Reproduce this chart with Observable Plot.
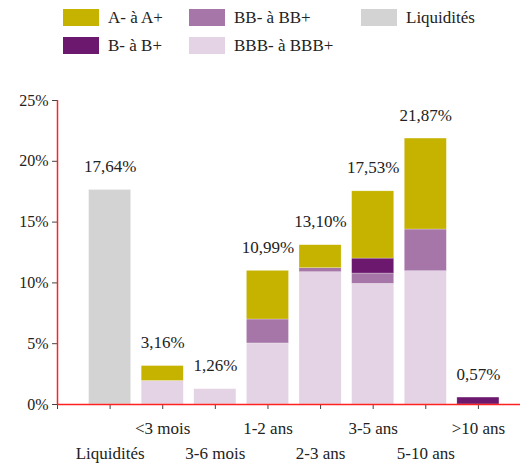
<!DOCTYPE html>
<html>
<head>
<meta charset="utf-8">
<script src="https://cdn.jsdelivr.net/npm/d3@7"></script>
<script src="https://cdn.jsdelivr.net/npm/@observablehq/plot@0.6"></script>
<style>
  html, body { margin: 0; padding: 0; background: #fff; }
  body { width: 525px; height: 463px; overflow: hidden; color: #222; }
  #legend { position: relative; width: 525px; height: 56px; }
  .item { position: absolute; display: flex; align-items: center; height: 17px; font-size: 17px; white-space: nowrap; }
  .sw { width: 36px; height: 17px; margin-right: 9px; flex: none; }
  #chart svg { display: block; }
</style>
</head>
<body>
<div id="legend"></div>
<div id="chart"></div>
<script>
// Categories (maturity buckets)
const categories = ["Liquidités", "<3 mois", "3-6 mois", "1-2 ans", "2-3 ans", "3-5 ans", "5-10 ans", ">10 ans"];
// Series values (% of portfolio)
const liquidites = [17.64, 0, 0, 0, 0, 0, 0, 0];
const bbb        = [0, 1.93, 1.26, 5.02, 10.88, 9.92, 10.96, 0];
const bb         = [0, 0, 0, 1.97, 0.33, 0.85, 3.43, 0];
const b          = [0, 0, 0, 0, 0, 1.23, 0, 0.57];
const a          = [0, 1.23, 0, 4.00, 1.89, 5.53, 7.48, 0];
const totals     = [17.64, 3.16, 1.26, 10.99, 13.10, 17.53, 21.87, 0.57];
const yTicks     = [0, 5, 10, 15, 20, 25];

const seriesNames = ["Liquidités", "BBB- à BBB+", "BB- à BB+", "B- à B+", "A- à A+"];
const seriesValues = [liquidites, bbb, bb, b, a];
const colors = {
  "A- à A+": "#c5b300",
  "BB- à BB+": "#a776a9",
  "Liquidités": "#d3d3d3",
  "B- à B+": "#6c186f",
  "BBB- à BBB+": "#e3d3e4"
};

// Pick an installed serif font
function hasFont(name) {
  const c = document.createElement("canvas").getContext("2d");
  const s = "Liquidités mmmwwwiii 0123456789%";
  c.font = `40px monospace`; const w0 = c.measureText(s).width;
  c.font = `40px "${name}", monospace`; const w1 = c.measureText(s).width;
  return w0 !== w1;
}
const candidates = ["Liberation Serif", "DejaVu Serif", "Noto Serif", "Times New Roman", "FreeSerif", "Tinos"];
const found = candidates.find(hasFont);
const FONT = found ? `"${found}", serif` : "serif";
document.body.style.fontFamily = FONT;

// Legend
const legendItems = [
  {name: "A- à A+", col: 0, row: 0},
  {name: "BB- à BB+", col: 1, row: 0},
  {name: "Liquidités", col: 2, row: 0},
  {name: "B- à B+", col: 0, row: 1},
  {name: "BBB- à BBB+", col: 1, row: 1}
];
const colX = [63, 189, 361], rowY = [9, 37];
const legend = document.getElementById("legend");
legendItems.forEach(it => {
  const d = document.createElement("div");
  d.className = "item";
  d.style.left = colX[it.col] + "px";
  d.style.top = rowY[it.row] + "px";
  d.innerHTML = `<span class="sw" style="background:${colors[it.name]}"></span><span>${it.name}</span>`;
  legend.appendChild(d);
});

// Data table
const rows = [];
seriesNames.forEach((s, si) => {
  seriesValues[si].forEach((v, ci) => {
    if (v > 0) rows.push({pos: ci + 1, series: s, value: v});
  });
});
const labels = categories.map((c, i) => ({
  pos: i + 1, total: totals[i], label: totals[i].toFixed(2).replace(".", ",") + "%",
  name: c, row: i % 2 === 0 ? 1 : 0
}));

const fmt = d => d + "%";
const plot = Plot.plot({
  width: 525,
  height: 407,
  marginTop: 44,
  marginBottom: 59,
  marginLeft: 57,
  marginRight: 5,
  style: {fontFamily: FONT, fontSize: "16px", color: "#222", background: "#fff"},
  x: {type: "linear", domain: [0, 8.8], axis: null},
  y: {domain: [0, 25], axis: null},
  color: {domain: Object.keys(colors), range: Object.values(colors)},
  marks: [
    Plot.rectY(rows, Plot.stackY({
      x1: d => d.pos - 0.4, x2: d => d.pos + 0.4, y: "value",
      fill: "series", order: seriesNames, stroke: "#fff", strokeOpacity: 0.5, strokeWidth: 0.5
    })),
    Plot.axisY({ticks: yTicks, tickFormat: fmt, tickSize: 5, tickPadding: 4, fontSize: 16, stroke: "#444", label: null, fontFamily: FONT}),
    Plot.axisX({ticks: d3.range(0, 9), tickFormat: () => "", tickSize: 5, stroke: "#444", label: null}),
    Plot.ruleX([0], {stroke: "#ff2020", strokeWidth: 1.5}),
    Plot.ruleY([0], {stroke: "#ff2020", strokeWidth: 1.5}),
    Plot.text(labels, {x: "pos", y: "total", text: "label", lineAnchor: "bottom", dy: -18, fontSize: 17, fill: "#222", fontFamily: FONT}),
    Plot.text(labels, {x: "pos", y: 0, text: "name", lineAnchor: "bottom", fontSize: 17, fill: "#222", fontFamily: FONT,
      filter: d => d.row === 0, dy: 29}),
    Plot.text(labels, {x: "pos", y: 0, text: "name", lineAnchor: "bottom", fontSize: 17, fill: "#222", fontFamily: FONT,
      filter: d => d.row === 1, dy: 54})
  ]
});
document.getElementById("chart").appendChild(plot);
</script>
</body>
</html>
